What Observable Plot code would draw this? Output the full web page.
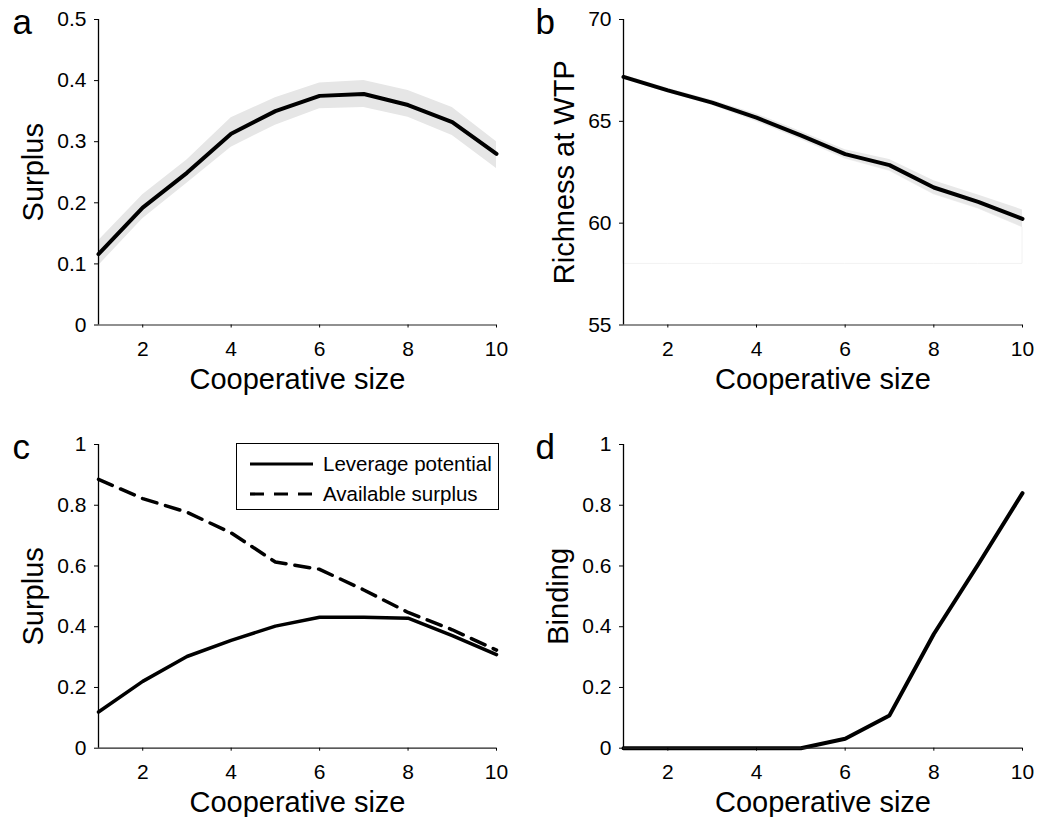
<!DOCTYPE html>
<html>
<head>
<meta charset="utf-8">
<script src="https://cdn.jsdelivr.net/npm/d3@7"></script>
<script src="https://cdn.jsdelivr.net/npm/@observablehq/plot@0.6"></script>
<style>
  html, body { margin: 0; padding: 0; background: #fff; }
  #fig { position: relative; width: 1037px; height: 817px; background: #fff;
         font-family: "Liberation Sans", Arial, Helvetica, sans-serif; color: #000; }
  .panel { position: absolute; }
  .legend { position: absolute; left: 236px; top: 443px; width: 263px; height: 67px;
            border: 1.3px solid #000; background: #fff; box-sizing: border-box; }
  .legend .row { position: absolute; left: 0; height: 30px; width: 100%; }
  .legend svg { position: absolute; left: 12px; top: 0; }
  .legend span { position: absolute; left: 86px; top: 2px; font-size: 20.5px; line-height: 26px; white-space: nowrap; }
</style>
</head>
<body>
<div id="fig"></div>
<script>
// Cooperative size (x axis for every panel)
const coopSize = [1, 2, 3, 4, 5, 6, 7, 8, 9, 10];
const xTicks = [2, 4, 6, 8, 10];

// (a) surplus: mean and spread band
const surplusMean = [0.116, 0.192, 0.249, 0.313, 0.350, 0.375, 0.378, 0.360, 0.332, 0.280];
const surplusLow  = [0.097, 0.174, 0.232, 0.291, 0.327, 0.354, 0.356, 0.340, 0.310, 0.256];
const surplusHigh = [0.138, 0.213, 0.270, 0.339, 0.372, 0.396, 0.400, 0.384, 0.356, 0.300];
const surplusTicks = [0, 0.1, 0.2, 0.3, 0.4, 0.5];

// (b) richness at willingness to pay: mean and spread band
const richnessMean = [67.18, 66.52, 65.92, 65.18, 64.31, 63.39, 62.85, 61.75, 61.05, 60.21];
const richnessLow  = [67.10, 66.42, 65.80, 65.00, 64.12, 63.17, 62.57, 61.42, 60.72, 59.80];
const richnessHigh = [67.28, 66.62, 66.04, 65.36, 64.50, 63.61, 63.13, 62.08, 61.38, 60.65];
const richnessFloor = 58;
const richnessTicks = [55, 60, 65, 70];

// (c) leverage potential vs available surplus
const leverage  = [0.119, 0.220, 0.302, 0.355, 0.402, 0.431, 0.431, 0.428, 0.371, 0.308];
const available = [0.885, 0.822, 0.777, 0.709, 0.613, 0.589, 0.521, 0.447, 0.390, 0.323];
const unitTicks = [0, 0.2, 0.4, 0.6, 0.8, 1];

// (d) binding fraction
const binding = [0, 0, 0, 0, 0, 0.031, 0.108, 0.376, 0.605, 0.840];

const seriesLabels = ["Leverage potential", "Available surplus"];
const FONT = '"Liberation Sans", Arial, Helvetica, sans-serif';
const plainNumber = (d) => `${d}`;

const rows = (cols) => coopSize.map((x, i) => {
  const r = {x};
  for (const [k, arr] of Object.entries(cols)) r[k] = arr[i];
  return r;
});

function panel({letter, ylabel, yDomain, yTicks, marks, width, height, margins}) {
  return Plot.plot({
    width, height,
    marginLeft: margins[0], marginRight: margins[1], marginTop: margins[2], marginBottom: margins[3],
    style: {fontFamily: FONT, color: "#000", background: "transparent", overflow: "visible"},
    x: {domain: [1, 10]},
    y: {domain: yDomain},
    marks: [
      ...marks,
      Plot.ruleX([1], {stroke: "#000", strokeWidth: 1.3}),
      Plot.ruleY([yDomain[0]], {stroke: "#222", strokeWidth: 1.2}),
      Plot.axisY({ticks: yTicks, tickFormat: plainNumber, tickSize: 4, tickPadding: 8, fontSize: 21, label: null, strokeWidth: 1}),
      Plot.axisX({ticks: xTicks, tickFormat: plainNumber, tickSize: 3, tickPadding: 13, fontSize: 21, label: null, strokeWidth: 1}),
      Plot.text(["Cooperative size"], {frameAnchor: "bottom", dy: 63.5, lineAnchor: "bottom",
        fontSize: 29, textAnchor: "middle"}),
      Plot.text([ylabel], {frameAnchor: "left", dx: ylabel.dx, rotate: -90, lineAnchor: "bottom",
        fontSize: 29, textAnchor: "middle", text: () => ylabel.text}),
      Plot.text([letter], {frameAnchor: "top-left", dx: letter.dx, dy: 14, lineAnchor: "bottom",
        textAnchor: "start", fontSize: 35, text: () => letter.text})
    ]
  });
}

const fig = document.getElementById("fig");
function place(node, left, top) {
  node.classList.add("panel");
  node.style.left = left + "px";
  node.style.top = top + "px";
  fig.appendChild(node);
}

// (a)
const aData = rows({m: surplusMean, lo: surplusLow, hi: surplusHigh});
place(panel({
  letter: {text: "a", dx: -86}, ylabel: {text: "Surplus", dx: -56},
  yDomain: [0, 0.5], yTicks: surplusTicks, width: 518, height: 400, margins: [98, 22, 19, 75.5],
  marks: [
    Plot.areaY(aData, {x: "x", y1: "lo", y2: "hi", fill: "#e6e6e6"}),
    Plot.lineY(aData, {x: "x", y: "m", stroke: "#000", strokeWidth: 4})
  ]
}), 0, 0);

// (b)
const bData = rows({m: richnessMean, lo: richnessLow, hi: richnessHigh});
place(panel({
  letter: {text: "b", dx: -88}, ylabel: {text: "Richness at WTP", dx: -50},
  yDomain: [55, 70], yTicks: richnessTicks, width: 517, height: 400, margins: [103, 15, 19, 75.5],
  marks: [
    Plot.areaY(bData, {x: "x", y1: () => richnessFloor, y2: "lo", fill: "#fff", stroke: "#f2f2f2", strokeWidth: 1}),
    Plot.areaY(bData, {x: "x", y1: "lo", y2: "hi", fill: "#e8e8e8"}),
    Plot.lineY(bData, {x: "x", y: "m", stroke: "#000", strokeWidth: 4})
  ]
}), 520, 0);

// (c)
const cData = rows({lev: leverage, avail: available});
place(panel({
  letter: {text: "c", dx: -86}, ylabel: {text: "Surplus", dx: -56},
  yDomain: [0, 1], yTicks: unitTicks, width: 518, height: 417, margins: [98, 22, 44, 69.3],
  marks: [
    Plot.lineY(cData, {x: "x", y: "avail", stroke: "#000", strokeWidth: 3.5, strokeDasharray: "15,9"}),
    Plot.lineY(cData, {x: "x", y: "lev", stroke: "#000", strokeWidth: 3.5})
  ]
}), 0, 400);

// (d)
const dData = rows({b: binding});
place(panel({
  letter: {text: "d", dx: -88}, ylabel: {text: "Binding", dx: -56},
  yDomain: [0, 1], yTicks: unitTicks, width: 517, height: 417, margins: [103, 15, 44, 69.3],
  marks: [
    Plot.lineY(dData, {x: "x", y: "b", stroke: "#000", strokeWidth: 4})
  ]
}), 520, 400);

// legend for panel (c)
const legend = document.createElement("div");
legend.className = "legend";
seriesLabels.forEach((label, i) => {
  const row = document.createElement("div");
  row.className = "row";
  row.style.top = (5 + i * 30) + "px";
  row.innerHTML =
    `<svg width="66" height="30"><line x1="1" x2="64" y1="15" y2="15" stroke="#000" stroke-width="3.2"` +
    (i === 1 ? ` stroke-dasharray="14,10"` : ``) + `/></svg><span>${label}</span>`;
  legend.appendChild(row);
});
fig.appendChild(legend);
</script>
</body>
</html>
